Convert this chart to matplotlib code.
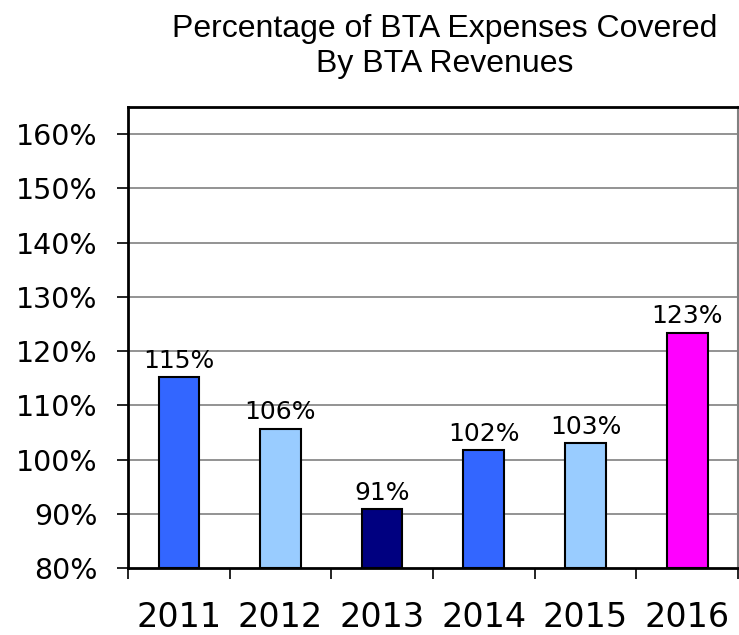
import matplotlib
matplotlib.use("Agg")
import matplotlib.pyplot as plt
import numpy as np

years = ["2011", "2012", "2013", "2014", "2015", "2016"]
coverage = [115.2, 105.7, 90.9, 101.8, 103.1, 123.4]
colors = ["#3366FF", "#99CCFF", "#000080", "#3366FF", "#99CCFF", "#FF00FF"]
yticks = [80, 90, 100, 110, 120, 130, 140, 150, 160]

fig = plt.figure(figsize=(7.39, 6.35), dpi=100)
ax = fig.add_axes([128 / 739, 67 / 635, 610 / 739, 461 / 635])

x = np.arange(len(years))
ax.bar(x, np.array(coverage) - 80, bottom=80, width=0.4, color=colors,
       edgecolor="black", linewidth=1.5, zorder=3)
for xi, v in zip(x, coverage):
    ax.annotate(f"{v:.0f}%", (xi, v), xytext=(0, 3), textcoords="offset points",
                ha="center", va="bottom", fontsize=18, family="DejaVu Sans")

ax.set_xlim(-0.5, len(years) - 0.5)
ax.set_ylim(80, 165)
ax.set_yticks(yticks)
ax.set_yticklabels([f"{t}%" for t in yticks], fontsize=20.5, family="DejaVu Sans")
for t in yticks[1:]:
    ax.axhline(t, color="#808080", lw=1.2, zorder=1)

# x ticks sit at the category boundaries; labels go at the centres
ax.set_xticks(np.arange(len(years) + 1) - 0.5)
ax.set_xticklabels([])
ax.set_xticks(x, minor=True)
ax.set_xticklabels(years, minor=True, fontsize=24, family="DejaVu Sans")
ax.tick_params(axis="x", which="minor", length=0, pad=24)
ax.tick_params(axis="x", which="major", length=8, width=1.2, direction="out")
ax.tick_params(axis="y", length=8, width=1.2, direction="out", pad=14)

for side in ["left", "bottom", "top"]:
    ax.spines[side].set_linewidth(2)
    ax.spines[side].set_color("black")
ax.spines["right"].set_color("#808080")
ax.spines["right"].set_linewidth(1.5)

fig.text(0.6015, 0.978, "Percentage of BTA Expenses Covered\nBy BTA Revenues",
         ha="center", va="top", fontsize=23, family="Liberation Sans",
         linespacing=1.2)

fig.savefig("out.png", dpi=100)
